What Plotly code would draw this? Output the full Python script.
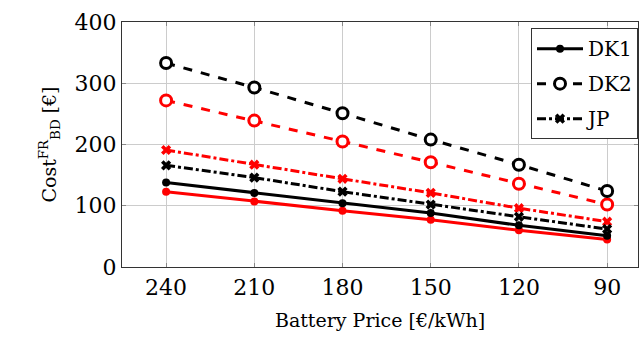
import plotly.graph_objects as go

price = [240, 210, 180, 150, 120, 90]

dk1_black = [138, 121, 104, 88, 68, 51]
dk2_black = [333, 293, 251, 208, 167, 124]
jp_black = [166, 146, 123, 102, 82, 62]

dk1_red = [123, 107, 92, 77, 60, 45]
dk2_red = [272, 239, 205, 171, 136, 102]
jp_red = [191, 167, 144, 121, 96, 74]

FONT = "DejaVu Serif"

fig = go.Figure()

def add(y, color, dash, symbol, size, name, show, hollow=False):
    fig.add_trace(go.Scatter(
        x=price, y=y, mode="lines+markers", name=name, showlegend=show,
        legendgroup=name,
        line=dict(color=color, width=3, dash=dash),
        marker=dict(symbol=symbol, size=size, color="white" if hollow else color,
                    line=dict(color=color, width=3 if hollow else 0)),
    ))

add(dk1_red, "#ff0000", "solid", "circle", 8, "DK1", False)
add(jp_red, "#ff0000", "dashdot", "x", 9, "JP", False)
add(dk2_red, "#ff0000", "dash", "circle", 11, "DK2", False, hollow=True)
add(dk1_black, "black", "solid", "circle", 8, "DK1", True)
add(dk2_black, "black", "dash", "circle", 11, "DK2", True, hollow=True)
add(jp_black, "black", "dashdot", "x", 9, "JP", True)

fig.update_layout(
    width=639, height=343,
    margin=dict(l=122, r=1, t=22, b=76, autoexpand=False),
    plot_bgcolor="white", paper_bgcolor="white",
    font=dict(family=FONT, size=22, color="black"),
    legend=dict(
        x=1.0, y=0.975, xanchor="right", yanchor="top",
        bgcolor="white", bordercolor="#333", borderwidth=1,
        font=dict(family=FONT, size=20),
        traceorder="grouped", tracegroupgap=6, itemwidth=46,
    ),
    xaxis=dict(
        range=[255, 79.5], tickvals=price, ticktext=[str(p) for p in price],
        showgrid=True, gridcolor="#cccccc", gridwidth=1,
        showline=True, linecolor="#333", linewidth=1.3, mirror="ticks",
        ticks="inside", ticklen=4, tickcolor="#888",
        title=dict(text="Battery Price [€/kWh]", standoff=15, font=dict(family=FONT, size=19)),
        tickfont=dict(family=FONT, size=22),
        zeroline=False, automargin=False,
    ),
    yaxis=dict(
        range=[0, 400], tickvals=[0, 100, 200, 300, 400],
        showgrid=True, gridcolor="#cccccc", gridwidth=1,
        showline=True, linecolor="#333", linewidth=1.3, mirror="ticks",
        ticks="inside", ticklen=4, tickcolor="#888",
        title=dict(text="Cost<sup>FR</sup><sub>BD</sub> [€]", standoff=12, font=dict(family=FONT, size=19)),
        tickfont=dict(family=FONT, size=22),
        zeroline=False, automargin=False,
    ),
)

fig.write_html("out.html")
